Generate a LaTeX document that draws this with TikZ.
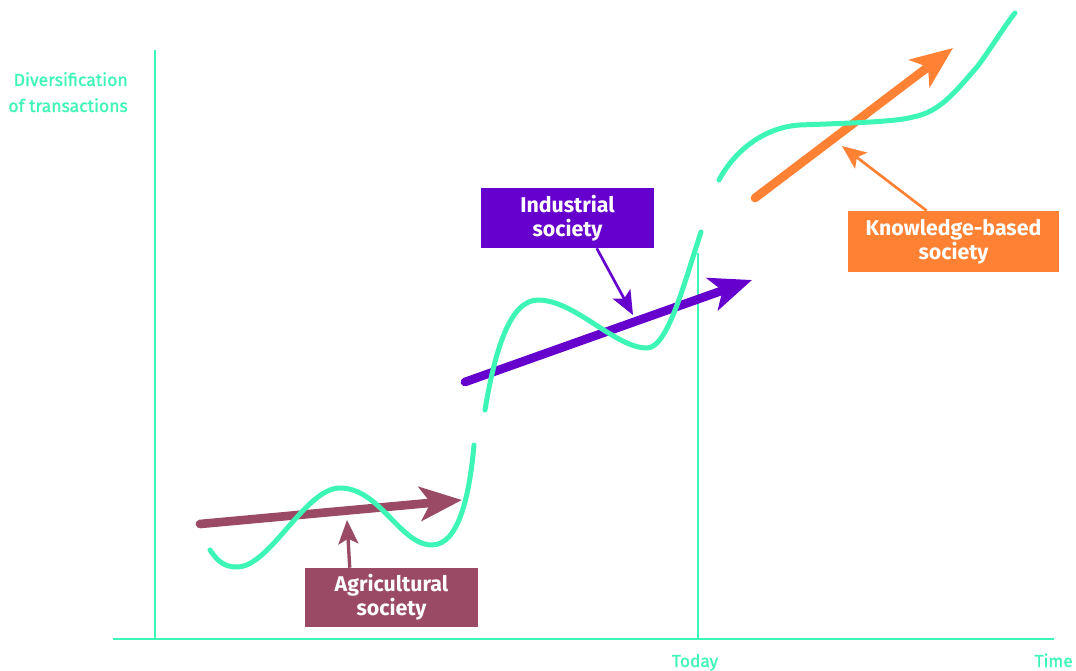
\documentclass[tikz,border=0pt]{standalone}
\usepackage{fontspec}
\setmainfont{Fira Sans}
\newfontfamily\medfont{Fira Sans}[FakeBold=1.2]
\usetikzlibrary{arrows.meta,calc}
\definecolor{mint}{HTML}{3DF5B4}
\definecolor{agri}{HTML}{9A4A64}
\definecolor{indu}{HTML}{6600CC}
\definecolor{know}{HTML}{FF8133}
\begin{document}
\begin{tikzpicture}[x=0.75pt,y=-0.75pt,
 axisline/.style={draw=mint,line width=1.3pt},
 curve/.style={draw=mint,line width=3.75pt,line cap=round},
 bigarrow/.style={line width=6.5pt,line cap=round,-{Stealth[length=31.5pt,width=25.5pt,inset=8pt]}},
 smallarrow/.style={line width=2pt,-{Stealth[length=18pt,width=15pt,inset=4pt]}},
 labelbox/.style={text=white,font=\bfseries\fontsize{16}{18}\selectfont,align=center,inner sep=0pt},
 axislabel/.style={text=mint,inner sep=0pt}]
\useasboundingbox (0,0) rectangle (1076,671);
% axes
\coordinate (yTop) at (155,50);
\coordinate (yBot) at (155,640);
\coordinate (xL) at (113,639);
\coordinate (xR) at (1054,639);
\coordinate (tTop) at (698,253);
\coordinate (tBot) at (698,639);
\draw[axisline] (yTop) -- (yBot);
\draw[axisline] (xL) -- (xR);
\draw[axisline] (tTop) -- (tBot);
\node[axislabel,anchor=north east,align=right,font=\medfont\fontsize{13.2}{19.5}\selectfont] (ylab) at (128,72) {Diversification\\of transactions};
\node[axislabel,anchor=base,font=\medfont\fontsize{13}{16}\selectfont] (today) at (695,667) {Today};
\node[axislabel,anchor=base east,font=\medfont\fontsize{13}{16}\selectfont] (time) at (1073,667) {Time};
% main arrows
\coordinate (agS) at (200,524);
\coordinate (agE) at (462,500);
\coordinate (inS) at (465,382);
\coordinate (inE) at (752,280);
\coordinate (knS) at (755,198);
\coordinate (knE) at (953,48);
\draw[bigarrow,draw=agri,fill=agri] (agS) -- (agE);
\draw[bigarrow,draw=indu,fill=indu] (inS) -- (inE);
\draw[bigarrow,draw=know,fill=know] (knS) -- (knE);
% curves
\draw[curve] (210,550) .. controls (218,562) and (225,567) .. (237,567)
  .. controls (270,567) and (305,488) .. (340,488)
  .. controls (380,488) and (400,545) .. (432,545)
  .. controls (460,545) and (470,490) .. (474,445);
\draw[curve] (485,410) .. controls (495,350) and (510,300) .. (538,300)
  .. controls (575,300) and (615,348) .. (647,348)
  .. controls (668,348) and (685,280) .. (701,232);
\draw[curve] (719,180) .. controls (735,150) and (765,127) .. (800,125)
  .. controls (850,123) and (895,122) .. (913,117)
  .. controls (940,112) and (955,92) .. (977,67)
  .. controls (990,50) and (1005,25) .. (1015,13);
% label boxes
\node[labelbox,fill=agri,minimum width=129.75pt,minimum height=44.25pt] (agbox) at (391.5,597.5) {Agricultural\\society};
\node[labelbox,fill=indu,minimum width=129.75pt,minimum height=45pt] (inbox) at (567.5,218) {Industrial\\society};
\node[labelbox,fill=know,minimum width=158.25pt,minimum height=45.75pt] (knbox) at (953.5,241.5) {Knowledge-based\\society};
% pointer arrows
\coordinate (agT) at (347,520);
\coordinate (inT) at (633,315);
\coordinate (knT) at (842,146);
\draw[smallarrow,draw=agri,fill=agri,line width=2.5pt] ($(agbox.north west)+(45,0)$) -- (agT);
\draw[smallarrow,draw=indu,fill=indu] ($(inbox.south west)+(116,0)$) -- (inT);
\draw[smallarrow,draw=know,fill=know] ($(knbox.north west)+(79,0)$) -- (knT);
\end{tikzpicture}
\end{document}
